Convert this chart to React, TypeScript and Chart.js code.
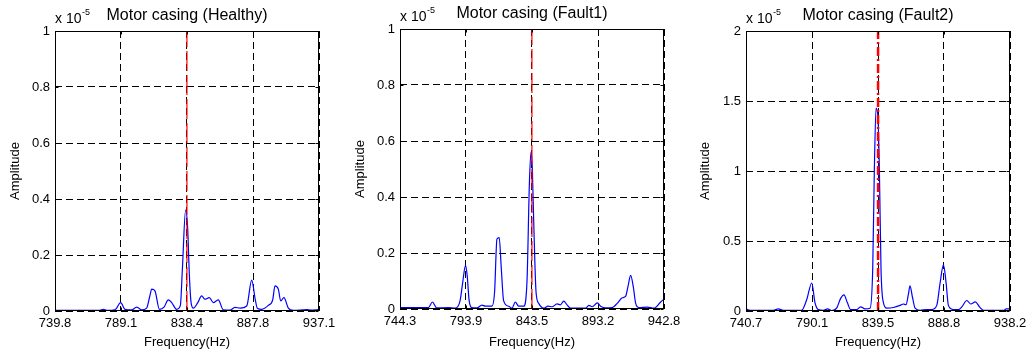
import React, { useEffect, useRef } from "react";
import { Chart, registerables } from "chart.js";

Chart.register(...registerables);

// ---------- data ----------
const titles = ["Motor casing (Healthy)", "Motor casing (Fault1)", "Motor casing (Fault2)"];
const xTitle = "Frequency(Hz)";
const yTitle = "Amplitude";

const xTicks1 = [739.8, 789.1, 838.4, 887.8, 937.1];
const xTicks2 = [744.3, 793.9, 843.5, 893.2, 942.8];
const xTicks3 = [740.7, 790.1, 839.5, 888.8, 938.2];
const yTicks1 = [0, 0.2, 0.4, 0.6, 0.8, 1];
const yTicks2 = [0, 0.2, 0.4, 0.6, 0.8, 1];
const yTicks3 = [0, 0.5, 1, 1.5, 2];
const markerFreqs = [838.4, 843.5, 839.5];

const freq1 = [739.8, 773.4, 775.9, 778.4, 784.6, 788.9, 792.1, 797.1, 800.9, 804.6, 808.3, 810.5, 812.1, 814.5, 817.8, 821.3, 824.5, 827.0, 830.7, 833.5, 835.0, 837.4, 838.9, 840.2, 841.5, 843.2, 846.5, 849.4, 851.9, 855.1, 858.1, 861.8, 865.6, 870.6, 874.3, 878.1, 883.1, 886.8, 889.5, 891.0, 894.3, 899.2, 902.5, 904.2, 906.7, 908.5, 910.9, 914.2, 917.9, 927.9, 931.0, 937.1];
const amp1 = [0.002, 0.002, 0.006, 0.002, 0.004, 0.03, 0.006, 0.004, 0.014, 0.004, 0.01, 0.05, 0.078, 0.072, 0.006, 0.014, 0.04, 0.03, 0.006, 0.02, 0.15, 0.36, 0.30, 0.13, 0.03, 0.01, 0.03, 0.054, 0.042, 0.048, 0.03, 0.04, 0.004, 0.003, 0.013, 0.01, 0.018, 0.11, 0.04, 0.01, 0.006, 0.02, 0.04, 0.09, 0.078, 0.036, 0.048, 0.01, 0.002, 0.005, 0.003, 0.005];

const freq2 = [744.3, 765.7, 768.7, 771.9, 780.7, 785.8, 789.5, 791.3, 793.6, 794.8, 796.3, 798.3, 802.1, 805.9, 808.4, 813.4, 815.4, 817.2, 818.9, 820.4, 822.2, 826.0, 828.5, 831.0, 833.5, 837.3, 839.8, 841.6, 842.8, 843.8, 844.9, 846.6, 848.6, 852.4, 855.6, 858.6, 862.4, 864.9, 867.4, 869.9, 872.5, 883.8, 886.3, 888.8, 892.7, 895.1, 898.9, 903.9, 907.6, 911.4, 913.9, 915.7, 917.7, 919.7, 921.5, 924.0, 930.3, 935.3, 940.3, 942.8];
const amp2 = [0.005, 0.005, 0.025, 0.004, 0.005, 0.003, 0.03, 0.09, 0.156, 0.12, 0.03, 0.005, 0.004, 0.014, 0.01, 0.01, 0.06, 0.25, 0.255, 0.15, 0.03, 0.01, 0.003, 0.025, 0.01, 0.01, 0.1, 0.45, 0.56, 0.50, 0.3, 0.06, 0.02, 0.003, 0.01, 0.008, 0.018, 0.015, 0.028, 0.015, 0.003, 0.003, 0.013, 0.008, 0.022, 0.01, 0.004, 0.005, 0.02, 0.04, 0.045, 0.08, 0.12, 0.08, 0.02, 0.005, 0.007, 0.003, 0.025, 0.035];

const freq3 = [740.7, 743.7, 761.1, 764.9, 768.6, 782.3, 786.1, 789.9, 792.3, 794.8, 798.6, 801.8, 804.8, 808.5, 811.5, 814.0, 816.5, 819.0, 823.5, 826.5, 829.7, 833.5, 835.5, 836.7, 838.0, 839.3, 840.5, 841.7, 843.5, 846.0, 851.0, 856.0, 858.4, 860.4, 862.2, 863.4, 865.2, 867.2, 870.9, 875.9, 879.6, 883.4, 885.9, 888.4, 890.4, 892.1, 895.9, 899.6, 902.2, 905.9, 908.9, 912.2, 915.4, 918.4, 933.4, 935.4, 938.2];
const amp3 = [0.015, 0.005, 0.005, 0.015, 0.005, 0.005, 0.08, 0.2, 0.06, 0.01, 0.005, 0.015, 0.003, 0.02, 0.09, 0.115, 0.06, 0.01, 0.01, 0.03, 0.015, 0.02, 0.3, 1.0, 1.45, 1.4, 1.0, 0.3, 0.06, 0.02, 0.025, 0.04, 0.05, 0.045, 0.12, 0.18, 0.1, 0.02, 0.005, 0.01, 0.01, 0.04, 0.2, 0.33, 0.2, 0.04, 0.01, 0.01, 0.03, 0.075, 0.05, 0.065, 0.03, 0.005, 0.005, 0.015, 0.015];

// ---------- layout / style ----------
const FONT = '"Liberation Sans", Arial, Helvetica, sans-serif';
const H = 356;

type Panel = {
  title: string;
  freq: number[];
  amp: number[];
  xTicks: number[];
  yTicks: number[];
  marker: number;
  left: number;
  width: number;
  axisW: number;
  padR: number;
  padT: number;
  bottom: number;
  redDash: number[];
  redWidth: number;
};

const panels: Panel[] = [
  { title: titles[0], freq: freq1, amp: amp1, xTicks: xTicks1, yTicks: yTicks1, marker: markerFreqs[0], left: 0, width: 345, axisW: 55, padR: 26, padT: 31, bottom: 311, redDash: [20, 4], redWidth: 1.2 },
  { title: titles[1], freq: freq2, amp: amp2, xTicks: xTicks2, yTicks: yTicks2, marker: markerFreqs[1], left: 345, width: 345, axisW: 55, padR: 26, padT: 29, bottom: 309, redDash: [20, 4], redWidth: 1.2 },
  { title: titles[2], freq: freq3, amp: amp3, xTicks: xTicks3, yTicks: yTicks3, marker: markerFreqs[2], left: 690, width: 344, axisW: 56, padR: 24, padT: 31, bottom: 311, redDash: [9, 3, 2, 3], redWidth: 2.5 },
];

function makeChart(canvas: HTMLCanvasElement, p: Panel) {
  const ymax = p.yTicks[p.yTicks.length - 1];
  const pts = p.freq.map((f, i) => ({ x: f, y: p.amp[i] }));

  const deco = {
    id: "deco",
    afterDatasetsDraw(chart: any) {
      const { ctx, chartArea: a } = chart;
      const xs = chart.scales.x;
      const ys = chart.scales.y;
      ctx.save();
      ctx.setLineDash([]);
      ctx.strokeStyle = "#000";
      ctx.lineWidth = 1;
      const l = Math.round(a.left) + 0.5;
      const t = Math.round(a.top) + 0.5;
      const r = Math.round(a.right) - 0.5;
      const b = Math.round(a.bottom) - 0.5;
      ctx.strokeRect(l, t, r - l, b - t);
      ctx.beginPath();
      for (const v of p.xTicks) {
        const x = Math.round(xs.getPixelForValue(v)) + 0.5;
        ctx.moveTo(x, b); ctx.lineTo(x, b - 3);
        ctx.moveTo(x, t); ctx.lineTo(x, t + 3);
      }
      for (const v of p.yTicks) {
        const y = Math.round(ys.getPixelForValue(v)) + 0.5;
        ctx.moveTo(l, y); ctx.lineTo(l + 3, y);
        ctx.moveTo(r, y); ctx.lineTo(r - 3, y);
      }
      ctx.stroke();

      ctx.fillStyle = "#000";
      ctx.font = `16px ${FONT}`;
      ctx.textAlign = "center";
      ctx.textBaseline = "middle";
      ctx.fillText(p.title, (a.left + a.right) / 2, a.top - 15.5);

      ctx.textAlign = "left";
      ctx.textBaseline = "alphabetic";
      ctx.font = `14px ${FONT}`;
      ctx.fillText("x 10", a.left, a.top - 8);
      const w = ctx.measureText("x 10").width;
      ctx.font = `9px ${FONT}`;
      ctx.fillText("-5", a.left + w + 0.5, a.top - 16);
      ctx.restore();
    },
  };

  return new Chart(canvas, {
    type: "line",
    data: {
      datasets: [
        {
          data: [{ x: p.marker, y: 0 }, { x: p.marker, y: ymax }],
          borderColor: "#ff0000",
          borderWidth: p.redWidth,
          borderDash: p.redDash,
          pointRadius: 0,
          fill: false,
        },
        {
          data: pts,
          borderColor: "#0000ff",
          borderWidth: 1.2,
          pointRadius: 0,
          fill: false,
          cubicInterpolationMode: "monotone",
        },
      ],
    },
    options: {
      responsive: false,
      animation: false,
      devicePixelRatio: 1,
      layout: { padding: { left: 0, right: p.padR, top: p.padT, bottom: 0 } },
      plugins: { legend: { display: false }, tooltip: { enabled: false }, title: { display: false } },
      scales: {
        x: {
          type: "linear",
          min: p.xTicks[0],
          max: p.xTicks[p.xTicks.length - 1],
          afterBuildTicks: (s: any) => { s.ticks = p.xTicks.map((v) => ({ value: v })); },
          afterFit: (s: any) => { s.height = H - p.bottom; },
          ticks: {
            callback: (v: any) => Number(v).toFixed(1),
            font: { family: FONT, size: 13 },
            color: "#000",
            padding: 5,
            maxRotation: 0,
            minRotation: 0,
            autoSkip: false,
          },
          grid: { color: "#000", lineWidth: 1, drawTicks: false },
          border: { display: false, dash: [7, 4] },
          title: { display: true, text: xTitle, color: "#000", font: { family: FONT, size: 13 }, padding: { top: 0, bottom: 6 } },
        },
        y: {
          type: "linear",
          min: 0,
          max: ymax,
          afterBuildTicks: (s: any) => { s.ticks = p.yTicks.map((v) => ({ value: v })); },
          afterFit: (s: any) => { s.width = p.axisW; },
          ticks: {
            callback: (v: any) => String(v),
            font: { family: FONT, size: 13 },
            color: "#000",
            padding: 5,
          },
          grid: { color: "#000", lineWidth: 1, drawTicks: false },
          border: { display: false, dash: [7, 4] },
          title: { display: true, text: yTitle, color: "#000", font: { family: FONT, size: 13 }, padding: { top: 8, bottom: 0 } },
        },
      },
    } as any,
    plugins: [deco as any],
  });
}

function PanelChart({ p }: { p: Panel }) {
  const ref = useRef<HTMLCanvasElement>(null);
  useEffect(() => {
    if (!ref.current) return;
    const c = makeChart(ref.current, p);
    return () => c.destroy();
  }, [p]);
  return (
    <div style={{ position: "absolute", left: p.left, top: 0, width: p.width, height: H }}>
      <canvas ref={ref} width={p.width} height={H} style={{ display: "block", width: p.width, height: H }} />
    </div>
  );
}

export default function App() {
  return (
    <div style={{ position: "absolute", left: 0, top: 0, width: 1034, height: H, background: "#fff", overflow: "hidden" }}>
      {panels.map((p, i) => (
        <PanelChart key={i} p={p} />
      ))}
    </div>
  );
}
